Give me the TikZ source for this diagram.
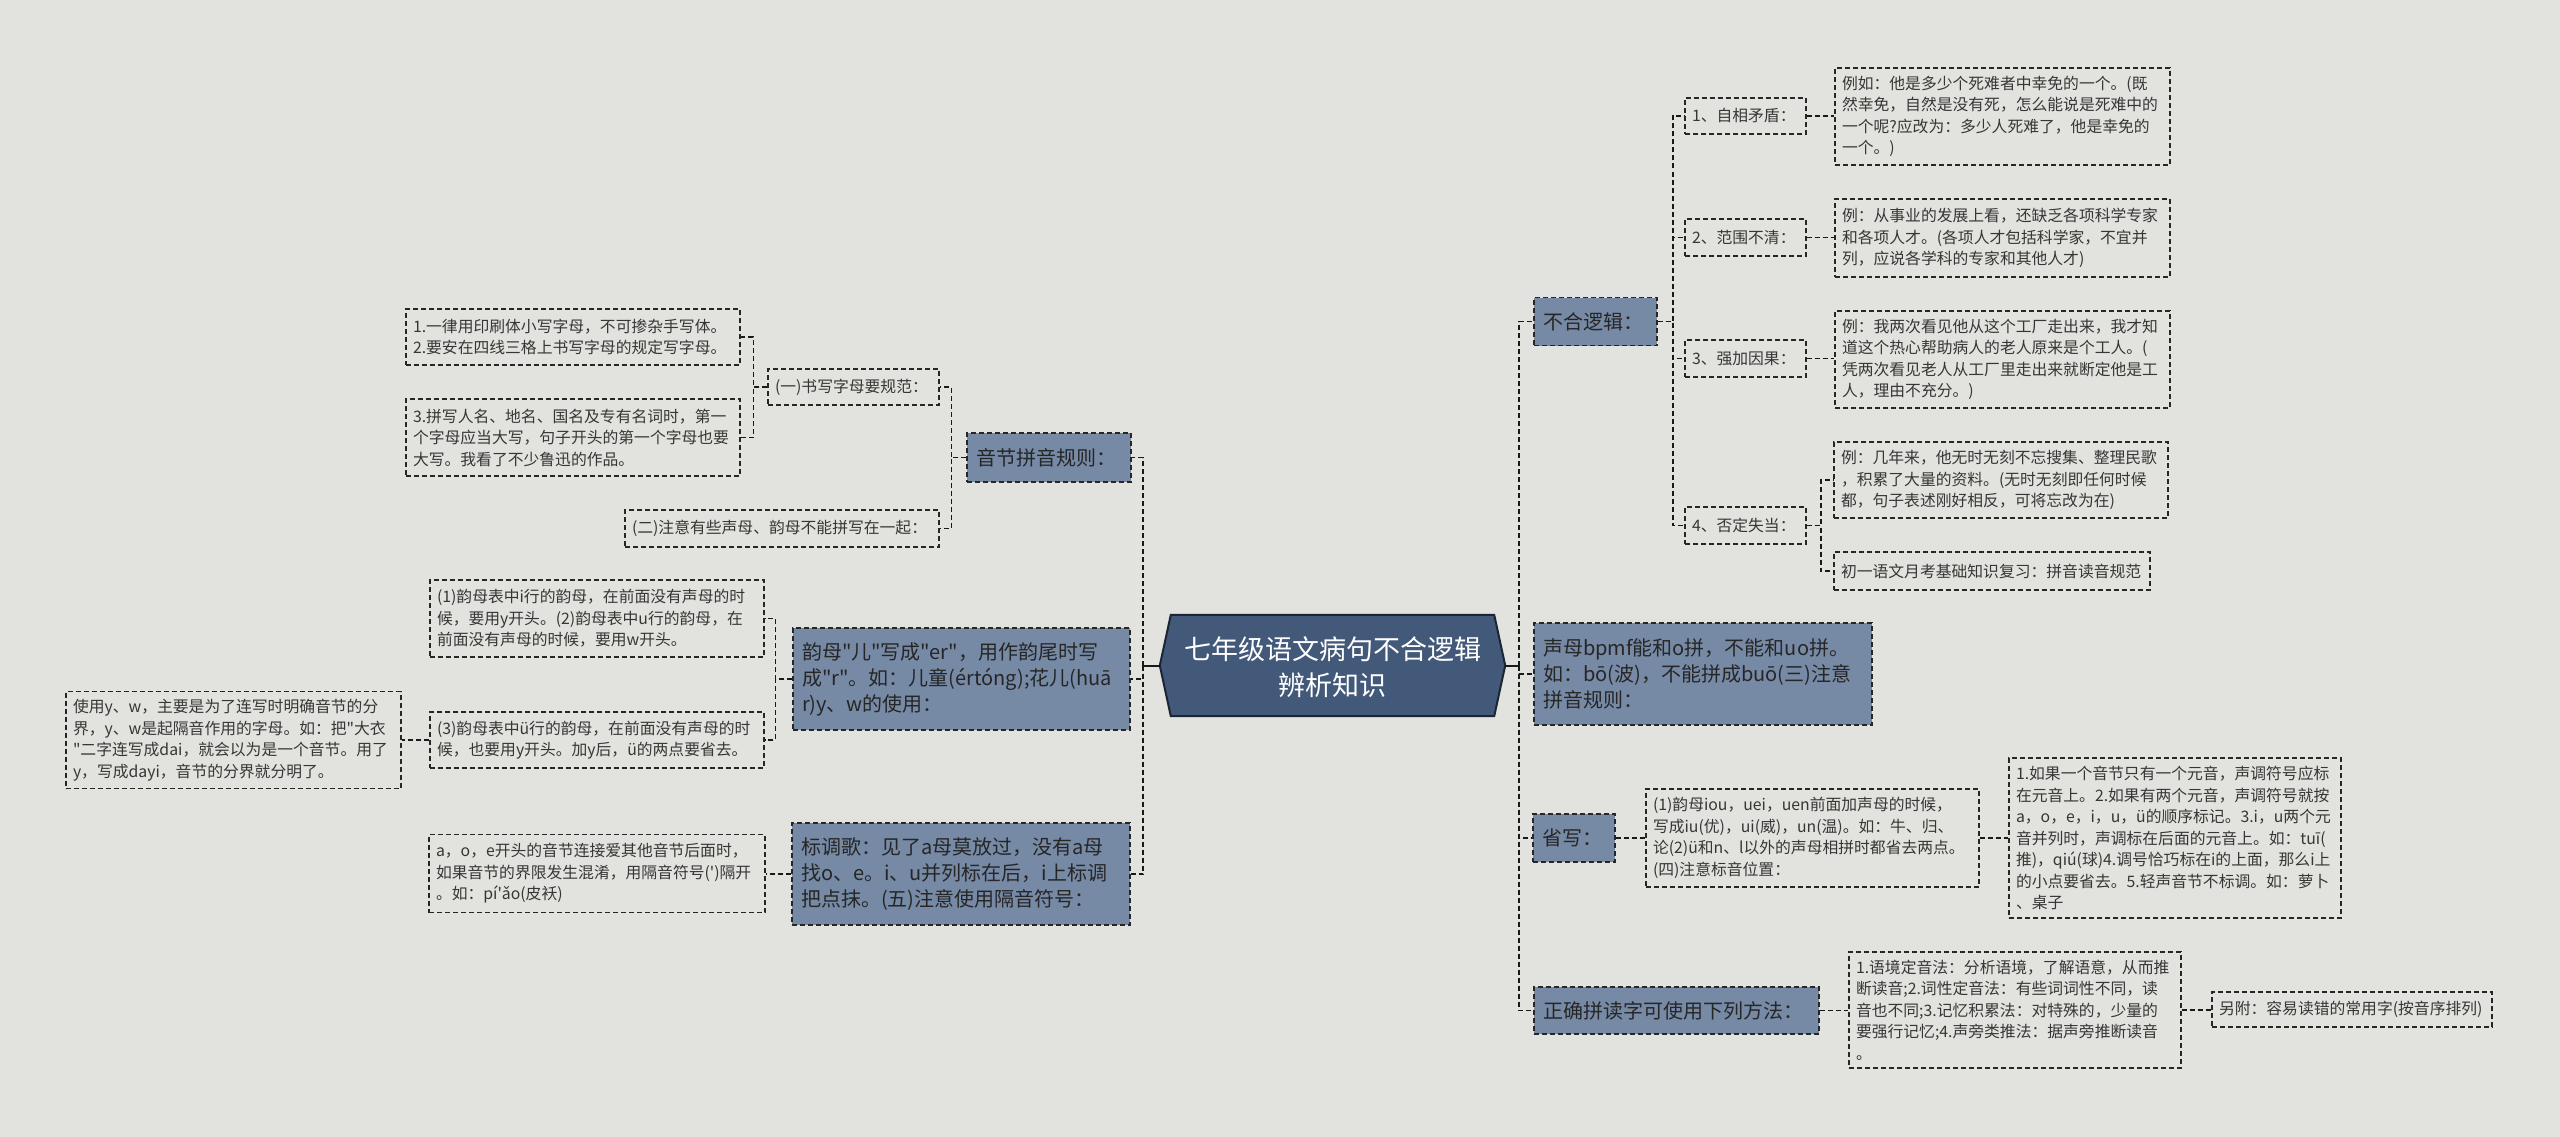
\documentclass[tikz,border=0pt]{standalone}
\usepackage{fontspec}
\newfontfamily\cjk{Noto Sans CJK SC}
\definecolor{bgc}{HTML}{E2E2DE}
\definecolor{boxfill}{HTML}{7689A5}
\definecolor{rootfill}{HTML}{43597A}
\definecolor{rootline}{HTML}{1C2533}
\definecolor{txt}{HTML}{363636}
\tikzset{
  conn/.style={draw=black!90, line width=1.6pt, dash pattern=on 5pt off 3pt},
  rootconn/.style={draw=black!90, line width=2pt},
  leaf/.style={draw=black!85, line width=1.4pt, dash pattern=on 5pt off 3pt,
    inner xsep=7pt, inner ysep=0pt, align=left, text=txt,
    font=\cjk\fontsize{15.8}{21.5}\selectfont, anchor=center},
  branch/.style={leaf, fill=boxfill, text=black!85, inner xsep=9pt,
    font=\cjk\fontsize{20}{26}\selectfont},
  sz/.style 2 args={text width=#1pt, minimum height=#2pt},
  rootshape/.style={fill=rootfill, draw=rootline, line width=2pt},
  roottext/.style={text=white, align=center, font=\cjk\fontsize{27}{36}\selectfont, inner sep=0pt}
}
\begin{document}
\begin{tikzpicture}[x=1pt,y=-1pt]
\fill[bgc] (0,0) rectangle (2560,1137);
\useasboundingbox (0,0) rectangle (2560,1137);

% root
\node[minimum width=323pt, minimum height=101pt, inner sep=0pt] (root) at (1332.5,665.5) {};
\draw[rootshape] ([xshift=-11pt]root.west) -- (root.north west) -- (root.north east) -- ([xshift=11pt]root.east) -- (root.south east) -- (root.south west) -- cycle;
\node[roottext] (roottxt) at (1332.5,667) {七年级语文病句不合逻辑\\辨析知识};
\coordinate (rootL) at ([xshift=-11pt]root.west);
\coordinate (rootR) at ([xshift=11pt]root.east);
\coordinate (trunkL) at (1143,665.5);
\coordinate (trunkR) at (1519,665.5);

% left side
\node[branch, sz={146}{49}] (A) at (1049,457.5) {音节拼音规则：};
\node[leaf, sz={157}{36}] (L1) at (853.5,387) {(一)书写字母要规范：};
\node[leaf, sz={300}{37}] (L2) at (782,528.5) {(二)注意有些声母、韵母不能拼写在一起：};
\node[leaf, sz={320}{56}] (L1a) at (573,337) {1.一律用印刷体小写字母，不可掺杂手写体。\\2.要安在四线三格上书写字母的规定写字母。};
\node[leaf, sz={320}{77}] (L1b) at (573,437.5) {3.拼写人名、地名、国名及专有名词时，第一\\个字母应当大写，句子开头的第一个字母也要\\大写。我看了不少鲁迅的作品。};

\node[branch, sz={319}{102}] (B) at (961.5,679) {韵母"儿"写成"er"，用作韵尾时写\\成"r"。如：儿童(értóng);花儿(huā\\r)y、w的使用：};
\node[leaf, sz={320}{77}] (B1) at (597,618.5) {(1)韵母表中i行的韵母，在前面没有声母的时\\候，要用y开头。(2)韵母表中u行的韵母，在\\前面没有声母的时候，要用w开头。};
\node[leaf, sz={320}{56}] (B2) at (597,740) {(3)韵母表中ü行的韵母，在前面没有声母的时\\候，也要用y开头。加y后，ü的两点要省去。};
\node[leaf, sz={321}{97}] (B2a) at (233.5,740) {使用y、w，主要是为了连写时明确音节的分\\界，y、w是起隔音作用的字母。如：把"大衣\\"二字连写成dai，就会以为是一个音节。用了\\y，写成dayi，音节的分界就分明了。};

\node[branch, sz={320}{102}] (C) at (961,874) {标调歌：见了a母莫放过，没有a母\\找o、e。i、u并列标在后，i上标调\\把点抹。(五)注意使用隔音符号：};
\node[leaf, sz={322}{78}] (C1) at (597,873.5) {a，o，e开头的音节连接爱其他音节后面时，\\如果音节的界限发生混淆，用隔音符号(')隔开\\。如：pí'ǎo(皮袄)};

% right side
\node[branch, sz={105}{48}] (R1) at (1595.5,321.5) {不合逻辑：};
\node[leaf, sz={107}{36}] (R1a) at (1745.5,116) {1、自相矛盾：};
\node[leaf, sz={321}{97}] (R1a1) at (2002.5,116.5) {例如：他是多少个死难者中幸免的一个。(既\\然幸免，自然是没有死，怎么能说是死难中的\\一个呢?应改为：多少人死难了，他是幸免的\\一个。)};
\node[leaf, sz={107}{37}] (R1b) at (1745.5,237.5) {2、范围不清：};
\node[leaf, sz={321}{78}] (R1b1) at (2002.5,238) {例：从事业的发展上看，还缺乏各项科学专家\\和各项人才。(各项人才包括科学家，不宜并\\列，应说各学科的专家和其他人才)};
\node[leaf, sz={107}{37}] (R1c) at (1745.5,358.5) {3、强加因果：};
\node[leaf, sz={321}{97}] (R1c1) at (2002.5,359.5) {例：我两次看见他从这个工厂走出来，我才知\\道这个热心帮助病人的老人原来是个工人。(\\凭两次看见老人从工厂里走出来就断定他是工\\人，理由不充分。)};
\node[leaf, sz={107}{37}] (R1d) at (1745.5,525.5) {4、否定失当：};
\node[leaf, sz={320}{76}] (R1d1) at (2001,480) {例：几年来，他无时无刻不忘搜集、整理民歌\\，积累了大量的资料。(无时无刻即任何时候\\都，句子表述刚好相反，可将忘改为在)};
\node[leaf, sz={302}{38}] (R1d2) at (1992,571) {初一语文月考基础知识复习：拼音读音规范};

\node[branch, sz={320}{102}] (R2) at (1703,674) {声母bpmf能和o拼，不能和uo拼。\\如：bō(波)，不能拼成buō(三)注意\\拼音规则：};

\node[branch, sz={64}{48}] (R3) at (1574,838) {省写：};
\node[leaf, sz={319}{98}] (R3a) at (1812.5,838) {(1)韵母iou，uei，uen前面加声母的时候，\\写成iu(优)，ui(威)，un(温)。如：牛、归、\\论(2)ü和n、l以外的声母相拼时都省去两点。\\(四)注意标音位置：};
\node[leaf, sz={318}{160}] (R3a1) at (2175,838) {1.如果一个音节只有一个元音，声调符号应标\\在元音上。2.如果有两个元音，声调符号就按\\a，o，e，i，u，ü的顺序标记。3.i，u两个元\\音并列时，声调标在后面的元音上。如：tuī(\\推)，qiú(球)4.调号恰巧标在i的上面，那么i上\\的小点要省去。5.轻声音节不标调。如：萝卜\\、桌子};

\node[branch, sz={267}{47}] (R4) at (1676.5,1010.5) {正确拼读字可使用下列方法：};
\node[leaf, sz={318}{116}] (R4a) at (2015,1010) {1.语境定音法：分析语境，了解语意，从而推\\断读音;2.词性定音法：有些词词性不同，读\\音也不同;3.记忆积累法：对特殊的，少量的\\要强行记忆;4.声旁类推法：据声旁推断读音\\。};
\node[leaf, sz={266}{35}] (R4a1) at (2352,1009.5) {另附：容易读错的常用字(按音序排列)};

% connectors: root
\draw[rootconn] (rootL) -- (trunkL);
\draw[rootconn] (rootR) -- (trunkR);
\foreach \n in {A,B,C} \draw[conn] (trunkL) |- (\n.east);
\foreach \n in {R1,R2,R3,R4} \draw[conn] (trunkR) |- (\n.west);

% left connectors
\draw[conn] (A.west) -- ++(-15,0) |- (L1.east);
\draw[conn] (A.west) -- ++(-15,0) |- (L2.east);
\draw[conn] (L1.west) -- ++(-14,0) |- (L1a.east);
\draw[conn] (L1.west) -- ++(-14,0) |- (L1b.east);
\draw[conn] (B.west) -- ++(-17,0) |- (B1.east);
\draw[conn] (B.west) -- ++(-17,0) |- (B2.east);
\draw[conn] (B2.west) -- (B2.west -| B2a.east);
\draw[conn] (C.west) -- (C.west -| C1.east);

% right connectors
\foreach \n in {R1a,R1b,R1c,R1d} \draw[conn] (R1.east) -- ++(15,0) |- (\n.west);
\draw[conn] (R1a.east) -- (R1a.east -| R1a1.west);
\draw[conn] (R1b.east) -- (R1b.east -| R1b1.west);
\draw[conn] (R1c.east) -- (R1c.east -| R1c1.west);
\draw[conn] (R1d.east) -- ++(14,0) |- (R1d1.west);
\draw[conn] (R1d.east) -- ++(14,0) |- (R1d2.west);
\draw[conn] (R3.east) -- (R3.east -| R3a.west);
\draw[conn] (R3a.east) -- (R3a.east -| R3a1.west);
\draw[conn] (R4.east) -- (R4.east -| R4a.west);
\draw[conn] (R4a.east) -- (R4a.east -| R4a1.west);
\end{tikzpicture}
\end{document}
